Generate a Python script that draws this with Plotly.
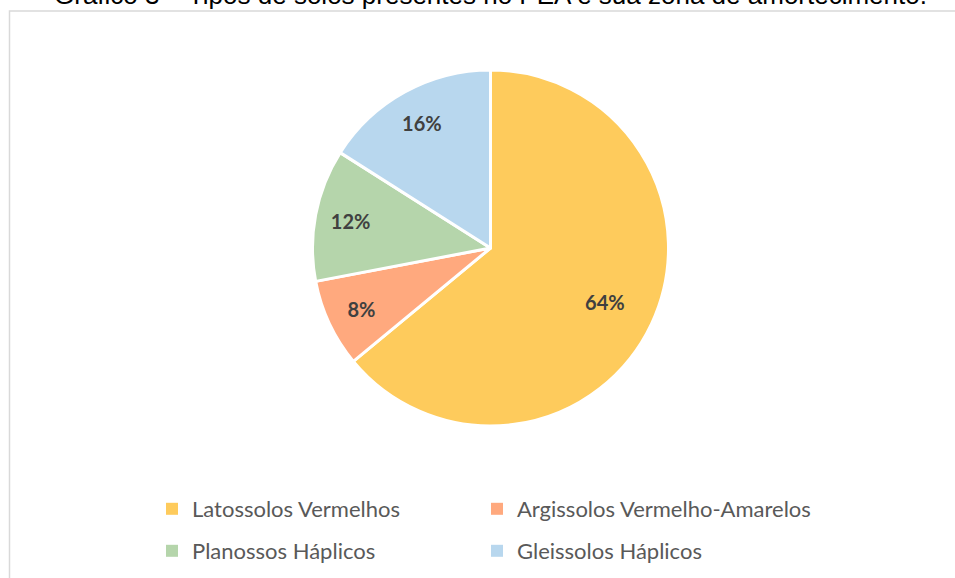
import plotly.graph_objects as go

categories = ["Latossolos Vermelhos", "Argissolos Vermelho-Amarelos", "Planossos Háplicos", "Gleissolos Háplicos"]
values = [64, 8, 12, 16]
colors = ["#FECB5C", "#FFA97E", "#B5D5AB", "#B8D7EE"]
title_text = "Gráfico 3 – Tipos de solos presentes no PEA e sua zona de amortecimento."

W, H = 955, 578
cx, cy, r = 490.5, 248, 178
pie_domain = dict(x=[(cx - r) / W, (cx + r) / W], y=[1 - (cy + r) / H, 1 - (cy - r) / H])

total = sum(values)
pct = [f"{v / total * 100:.0f}%" for v in values]
big = [v / total > 0.5 for v in values]

fig = go.Figure()
# visible pie
fig.add_trace(go.Pie(
    labels=categories, values=values, sort=False, direction="clockwise", rotation=0,
    marker=dict(colors=colors, line=dict(color="white", width=3)),
    textinfo="none", domain=pie_domain, showlegend=False, hoverinfo="label+percent",
))
# transparent rings carrying the percentage labels (small slices further out)
for hole, pick in ((0.6, False), (0.42, True)):
    fig.add_trace(go.Pie(
        labels=categories, values=values, sort=False, direction="clockwise", rotation=0, hole=hole,
        marker=dict(colors=["rgba(0,0,0,0)"] * len(values), line=dict(width=0)),
        text=[p if b == pick else "" for p, b in zip(pct, big)],
        textinfo="text", textposition="inside", insidetextorientation="horizontal",
        textfont=dict(family="Lato", size=20, color="#404040", weight="bold"),
        domain=pie_domain, showlegend=False, hoverinfo="skip",
    ))

# legend: one legend box per entry, laid out 2 x 2 as in the original
leg_x = [173, 498, 173, 498]
leg_y = [509, 509, 551, 551]
leg_names = ["legend", "legend2", "legend3", "legend4"]
for name, col, lg in zip(categories, colors, leg_names):
    fig.add_trace(go.Scatter(
        x=[None], y=[None], mode="markers", name=name, legend=lg,
        marker=dict(symbol="square", size=12, color=col), showlegend=True,
    ))

leg_common = dict(orientation="h", font=dict(family="Lato", size=22, color="#595959"),
                  itemwidth=30, xanchor="left", yanchor="middle", bgcolor="rgba(0,0,0,0)")
legends = {lg: dict(x=(lx - 21) / W, y=1 - ly / H, **leg_common)
           for lg, lx, ly in zip(leg_names, leg_x, leg_y)}

fig.update_layout(
    width=W, height=H, margin=dict(l=0, r=0, t=0, b=0),
    paper_bgcolor="white", plot_bgcolor="white",
    xaxis=dict(visible=False), yaxis=dict(visible=False),
    shapes=[dict(type="rect", xref="paper", yref="paper",
                 x0=9.5 / W, x1=1.05, y0=-0.05, y1=1 - 11 / H,
                 line=dict(color="#D9D9D9", width=1.5), fillcolor="rgba(0,0,0,0)")],
    annotations=[dict(text=title_text, xref="paper", yref="paper", x=490 / W, y=1 + 5.5 / H,
                      xanchor="center", yanchor="middle", showarrow=False,
                      font=dict(family="Liberation Sans", size=26, color="black"))],
    **legends,
)

fig.write_html("out.html", config={"displayModeBar": False},
               post_script="document.body.style.margin='0';")
